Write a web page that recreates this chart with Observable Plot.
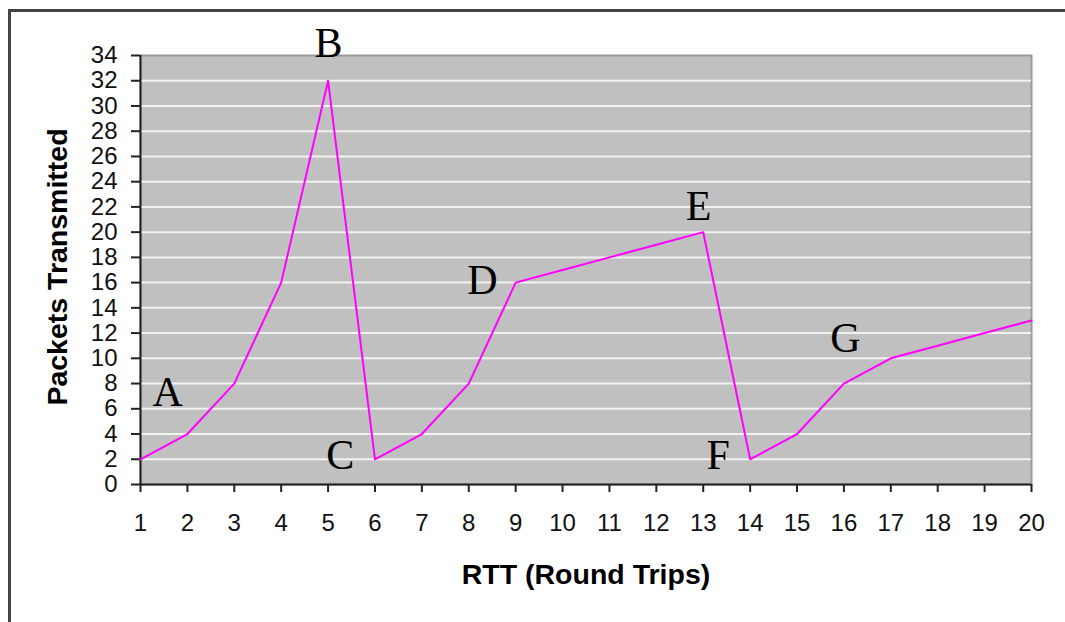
<!DOCTYPE html>
<html>
<head>
<meta charset="utf-8">
<script src="https://cdn.jsdelivr.net/npm/d3@7"></script>
<script src="https://cdn.jsdelivr.net/npm/@observablehq/plot@0.6"></script>
<style>
  html, body { margin: 0; padding: 0; background: #fff; }
  #chart { width: 1065px; height: 622px; overflow: hidden; }
</style>
</head>
<body>
<div id="chart"></div>
<script>
// Data
const rtt = [1, 2, 3, 4, 5, 6, 7, 8, 9, 10, 11, 12, 13, 14, 15, 16, 17, 18, 19, 20];
const packets = [2, 4, 8, 16, 32, 2, 4, 8, 16, 17, 18, 19, 20, 2, 4, 8, 10, 11, 12, 13];
const yTicks = [0, 2, 4, 6, 8, 10, 12, 14, 16, 18, 20, 22, 24, 26, 28, 30, 32, 34];
const phaseNames = ["A", "B", "C", "D", "E", "F", "G"];
const phaseX = [1.58, 5.01, 5.26, 8.29, 12.9, 13.32, 16.03];
const phaseY = [6.26, 33.9, 1.19, 15.13, 21.0, 1.19, 10.54];
const xTitle = "RTT (Round Trips)";
const yTitle = "Packets Transmitted";

const series = rtt.map((x, i) => ({x, y: packets[i]}));
const phases = phaseNames.map((t, i) => ({t, x: phaseX[i], y: phaseY[i]}));
const gridVals = yTicks.filter(d => d > 0 && d < 34);

const chart = Plot.plot({
  width: 1065,
  height: 622,
  marginLeft: 140,
  marginRight: 34,
  marginTop: 55,
  marginBottom: 138,
  style: {background: "#fff", fontFamily: "'Liberation Sans', Arial, sans-serif", color: "#111"},
  x: {domain: [1, 20]},
  y: {domain: [0, 34]},
  marks: [
    Plot.frame({fill: "#c0c0c0", stroke: "#9a9a9a", strokeWidth: 2}),
    Plot.ruleY(gridVals, {stroke: "#f2f2f2", strokeWidth: 2}),
    Plot.axisY(yTicks, {tickSize: 9, tickPadding: 14, fontSize: 24, label: null, stroke: "#222", strokeWidth: 2}),
    Plot.axisX(rtt, {tickSize: 8, tickPadding: 21, fontSize: 24, label: null, stroke: "#222", strokeWidth: 2}),
    Plot.ruleX([1], {stroke: "#222", strokeWidth: 2}),
    Plot.ruleY([0], {stroke: "#222", strokeWidth: 2}),
    Plot.line(series, {x: "x", y: "y", stroke: "#ff00ff", strokeWidth: 2}),
    Plot.text(phases, {x: "x", y: "y", text: "t", fontFamily: "'Liberation Serif', 'Times New Roman', serif", fontSize: 42, lineAnchor: "bottom", fill: "#000"}),
    Plot.text([xTitle], {frameAnchor: "bottom", textAnchor: "middle", dy: 99, lineAnchor: "bottom", fontSize: 28.5, fontWeight: "bold", fill: "#000"}),
    Plot.text([yTitle], {frameAnchor: "left", textAnchor: "middle", lineAnchor: "middle", dx: -83, dy: -3, rotate: -90, fontSize: 28.5, fontWeight: "bold", fill: "#000"})
  ]
});

d3.select(chart).insert("rect", ":first-child")
  .attr("x", 9.5).attr("y", 10.5).attr("width", 1200).attr("height", 800)
  .attr("fill", "none").attr("stroke", "#444").attr("stroke-width", 3);

document.getElementById("chart").appendChild(chart);
</script>
</body>
</html>
